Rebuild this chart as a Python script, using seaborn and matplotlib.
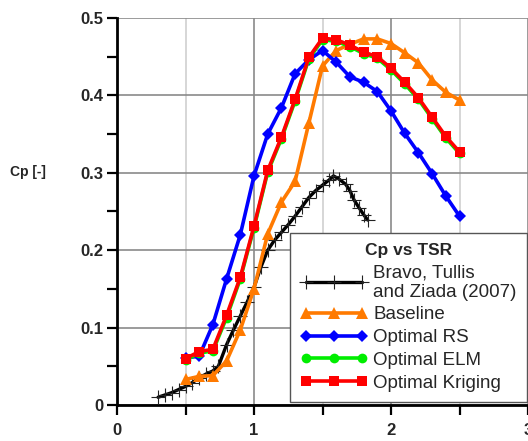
import matplotlib
matplotlib.use("Agg")
import matplotlib.pyplot as plt
import seaborn as sns
import numpy as np
import pandas as pd
from matplotlib.ticker import MultipleLocator, FuncFormatter

# ---- data ----
tsr = [0.5, 0.6, 0.7, 0.8, 0.9, 1.0, 1.1, 1.2, 1.3, 1.4, 1.5, 1.6, 1.7, 1.8, 1.9,
       2.0, 2.1, 2.2, 2.3, 2.4, 2.5]
cp_baseline = [0.033, 0.037, 0.038, 0.057, 0.097, 0.150, 0.221, 0.262, 0.289, 0.364,
               0.438, 0.458, 0.466, 0.473, 0.473, 0.467, 0.455, 0.442, 0.420, 0.404, 0.394]
cp_rs = [0.061, 0.063, 0.104, 0.163, 0.220, 0.296, 0.350, 0.384, 0.428, 0.446,
         0.458, 0.443, 0.424, 0.417, 0.405, 0.380, 0.351, 0.326, 0.299, 0.270, 0.244]
cp_elm = [0.058, 0.067, 0.070, 0.113, 0.163, 0.229, 0.301, 0.344, 0.393, 0.447,
          0.472, 0.470, 0.463, 0.454, 0.448, 0.433, 0.415, 0.395, 0.370, 0.345, 0.325]
cp_kriging = [0.060, 0.069, 0.072, 0.116, 0.165, 0.231, 0.303, 0.346, 0.395, 0.449,
              0.474, 0.472, 0.465, 0.456, 0.450, 0.435, 0.417, 0.397, 0.372, 0.347, 0.327]

tsr_bravo = [0.30, 0.35, 0.40, 0.45, 0.50, 0.55, 0.60, 0.65, 0.70, 0.74, 0.80, 0.85,
             0.90, 0.95, 1.00, 1.05, 1.10, 1.15, 1.20, 1.25, 1.30, 1.35, 1.40, 1.45,
             1.50, 1.55, 1.58, 1.62, 1.67, 1.70, 1.73, 1.77, 1.80, 1.83]
cp_bravo = [0.010, 0.013, 0.016, 0.020, 0.024, 0.029, 0.035, 0.040, 0.044, 0.050,
            0.078, 0.097, 0.115, 0.133, 0.152, 0.178, 0.200, 0.213, 0.223, 0.233,
            0.244, 0.256, 0.268, 0.277, 0.284, 0.291, 0.296, 0.292, 0.285, 0.277,
            0.265, 0.254, 0.246, 0.239]

labels = ["Bravo, Tullis\nand Ziada (2007)", "Baseline", "Optimal RS",
          "Optimal ELM", "Optimal Kriging"]
colors = ["#000000", "#FF7A00", "#0000FF", "#00EE00", "#FF0000"]
markers = ["+", "^", "D", "o", "s"]
msizes = [10, 8, 6, 7, 7.5]

x_ticks = [0, 1, 2, 3]
y_ticks = [0, 0.1, 0.2, 0.3, 0.4, 0.5]

# ---- style ----
sns.set_style("white")
plt.rcParams["font.family"] = ["Liberation Sans", "DejaVu Sans"]

fig = plt.figure(figsize=(5.28, 4.41), dpi=100)
ax = fig.add_axes([117 / 528, 1 - 405 / 441, 411 / 528, 387 / 441])

series = [(tsr_bravo, cp_bravo), (tsr, cp_baseline), (tsr, cp_rs),
          (tsr, cp_elm), (tsr, cp_kriging)]
for i in range(5):
    xs, ys = series[i]
    df = pd.DataFrame({"TSR": xs, "Cp": ys})
    kw = dict(color=colors[i], marker=markers[i], markersize=msizes[i],
              linewidth=2.6 if i else 2.4, label=labels[i], ax=ax, zorder=3 + i)
    if i == 0:
        kw.update(markeredgewidth=0.8, markeredgecolor="#222222")
    else:
        kw.update(markeredgewidth=0)
    sns.lineplot(data=df, x="TSR", y="Cp", **kw)

ax.set_xlim(0, 3)
ax.set_ylim(0, 0.5)
ax.set_xticks(x_ticks)
ax.set_yticks(y_ticks)
ax.xaxis.set_minor_locator(MultipleLocator(0.5))
ax.yaxis.set_minor_locator(MultipleLocator(0.05))
ax.xaxis.set_major_formatter(FuncFormatter(lambda v, p: f"{v:.0f}"))
ax.yaxis.set_major_formatter(FuncFormatter(lambda v, p: "0" if abs(v) < 1e-9 else f"{v:.1f}"))

ax.grid(True, which="major", color="#8a8a8a", linewidth=1.2)
ax.grid(True, which="minor", axis="x", color="#d0d0d0", linewidth=1.2)
ax.set_axisbelow(True)

for s in ["top", "right"]:
    ax.spines[s].set_visible(False)
for s in ["left", "bottom"]:
    ax.spines[s].set_color("black")
    ax.spines[s].set_linewidth(2.0)

ax.tick_params(axis="both", which="both", direction="out", color="black",
               width=1.6, length=7, left=True, bottom=True)
ax.tick_params(axis="x", which="major", pad=6)
ax.tick_params(axis="y", which="major", pad=3)
for lab in ax.get_xticklabels() + ax.get_yticklabels():
    lab.set_fontweight("bold")
    lab.set_fontsize(12)

ax.set_xlabel("")
ax.set_ylabel("")
fig.text(10 / 528, 1 - 172 / 441, "Cp [-]", fontsize=10, fontweight="bold",
         ha="left", va="center")

leg = ax.legend(title="Cp vs TSR", loc="lower right",
                bbox_to_anchor=(527 / 528, 1 - 402 / 441),
                bbox_transform=fig.transFigure, fontsize=13.5,
                title_fontproperties={"weight": "bold", "size": 12.5},
                numpoints=3, handlelength=3.6, handletextpad=0.3,
                borderpad=0.55, labelspacing=0.3, borderaxespad=0,
                frameon=True, fancybox=False, edgecolor="#555555",
                framealpha=1)
leg.get_frame().set_linewidth(1.0)
leg.set_zorder(20)

fig.savefig("out.png", dpi=100)
